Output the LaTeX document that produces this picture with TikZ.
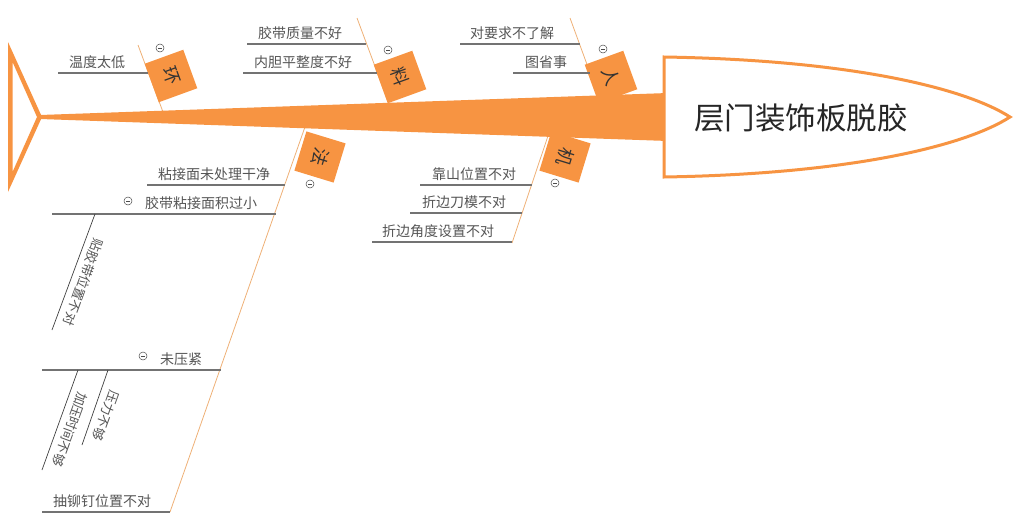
\documentclass[tikz,border=0pt]{standalone}
\usepackage{fontspec}
\setmainfont{Noto Sans CJK SC}
\usetikzlibrary{positioning, calc}
\definecolor{fishorange}{RGB}{247,148,66}
\definecolor{bonetan}{RGB}{238,176,118}
\definecolor{textgray}{RGB}{85,85,85}
\definecolor{rulegray}{RGB}{115,115,115}

\begin{document}
\begin{tikzpicture}[x = 1pt, y = -1pt]
\useasboundingbox (0, 0) rectangle (1023, 525);
\begin{scope}[
	bone/.style={draw=bonetan, line width=0.8pt},
	rule/.style={draw=rulegray, line width=1.1pt},
	twig/.style={draw=black!75, line width=0.7pt},
	causebox/.style={fill=fishorange, minimum size=41pt, inner sep=0pt,
		font=\fontsize{18}{18}\selectfont, text=black!80},
	cause/.style={font=\fontsize{14}{14}\selectfont, text=textgray, inner sep=0pt, anchor=base west},
	subcause/.style={font=\fontsize{13}{13}\selectfont, text=textgray, inner xsep=0pt, inner ysep=6.5pt, anchor=south},
	fold/.style={circle, draw=black!70, fill=white, line width=0.5pt, minimum size=8pt, inner sep=0pt,
		path picture={\draw[line width=0.5pt] ([xshift=2pt]path picture bounding box.west) -- ([xshift=-2pt]path picture bounding box.east);}}
]
% bones
\foreach \name/\outx/\outy/\inx/\iny in {env/138/45/163/112, mat/357/18/389/104, man/570/18/600/100, meth/170/512/306/124, mach/512/243/551/127} {
	\draw[bone] (\outx, \outy) coordinate(\name-out) -- (\inx, \iny) coordinate(\name-in);
}
% spine and tail
\fill[fishorange] (40, 115) coordinate(spine-tail) -- (668, 93) -- (668, 141) coordinate(spine-head) -- (40, 119) -- cycle;
\fill[fishorange, even odd rule] (8, 42) -- (42, 117) -- (8, 192) -- cycle (12.5, 62) -- (37, 117) -- (12.5, 172) -- cycle;
% head
\draw[fishorange, line width=3pt, fill=white] (664, 57) .. controls (850, 60) and (965, 88) .. (1010, 117) .. controls (965, 146) and (850, 174) .. (664, 177) -- cycle;
\node[font=\fontsize{30.5}{30.5}\selectfont, text=black!85] (effect) at (801, 118) {层门装饰板脱胶};
% category boxes
\foreach \name/\x/\y/\ang/\txt in {env/171/76/-70/环, mat/400/77/-70/料, man/611/77/-70/人, meth/320/157/-107/法, mach/565/157/-107/机} {
	\node[causebox, rotate=\ang] (\name) at (\x, \y) {\txt};
}
\foreach \name/\x/\y in {env/160/48, mat/388/50, man/603/49, meth/310/184, mach/555/183, area/128/201, press/143/356} {
	\node[fold] (fold-\name) at (\x, \y) {};
}
% causes
\foreach \name/\x/\y/\xe/\dx/\txt in {temp/58/73/148/11/温度太低, tape/247/44/366/11/胶带质量不好, liner/243/73/377/11/内胆平整度不好,
	req/460/44/580/10/对要求不了解, lazy/513/73/590/12/图省事, clean/147/185/285/11/粘接面未处理干净,
	area/52/214/276/93/胶带粘接面积过小, press/42/370/221/118/未压紧, rivet/42/512/170/11/抽铆钉位置不对,
	stop/420/185/532/12/靠山位置不对, die/410/213/522/12/折边刀模不对, angle/372/242/512/10/折边角度设置不对} {
	\draw[rule] (\x, \y) coordinate(\name-start) -- (\xe, \y) coordinate(\name-end);
	\node[cause] (\name) at ([shift={(\dx, -6)}]\name-start) {\txt};
}
% sub causes
\foreach \name/\x/\y/\xe/\ye/\txt in {place/95/214/52/330/贴胶带位置不对, time/78/370/42/470/加压时间不够, force/108/370/82/445/压力不够} {
	\draw[twig] (\x, \y) coordinate(\name-top) -- node[subcause, rotate=-110, pos=0.55] (\name) {\txt} (\xe, \ye) coordinate(\name-end);
}
\end{scope}
\end{tikzpicture}
\end{document}
